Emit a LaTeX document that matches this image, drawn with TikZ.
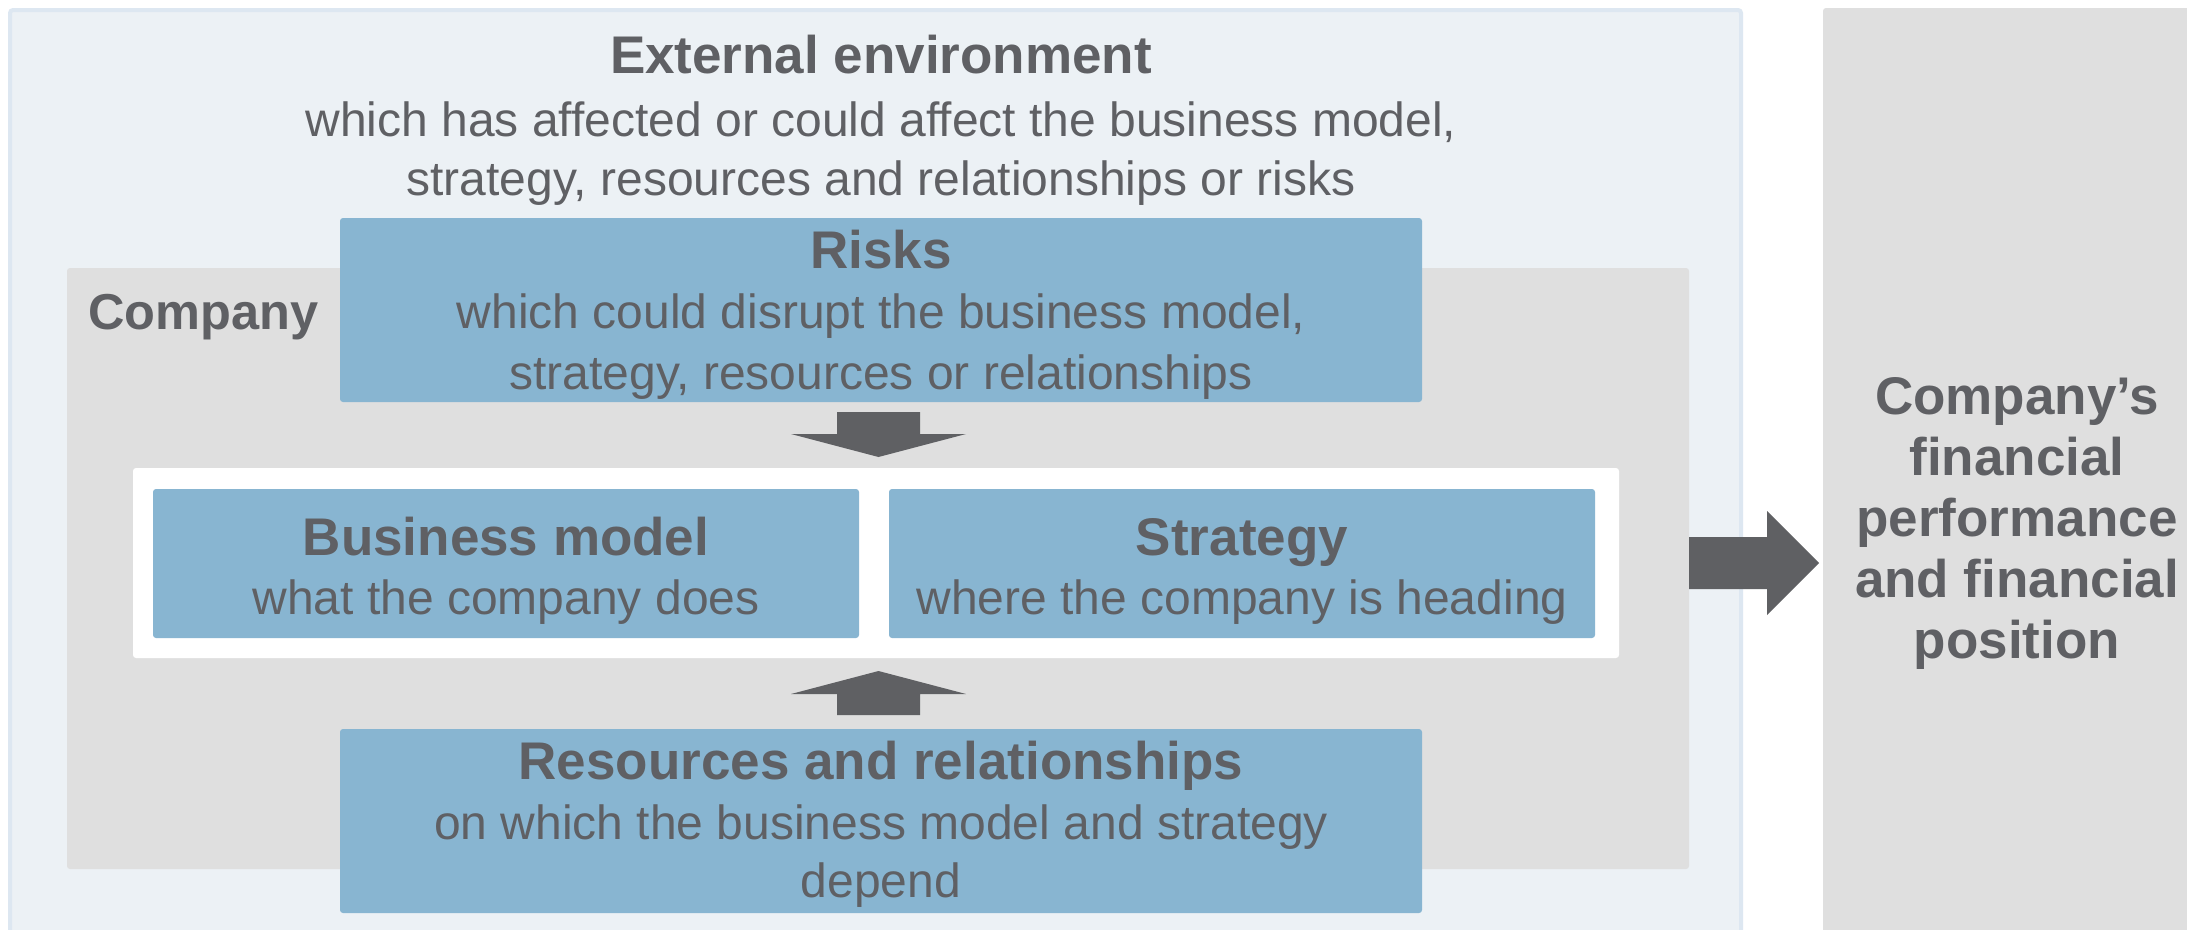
\documentclass[tikz,border=0pt]{standalone}
\usepackage{fontspec}
\setmainfont{Liberation Sans}
\usetikzlibrary{calc}
\definecolor{txt}{HTML}{5F6064}
\definecolor{arr}{HTML}{5F6063}
\definecolor{boxblue}{HTML}{88B5D1}
\definecolor{compgray}{HTML}{DFDFDF}
\definecolor{envfill}{HTML}{ECF1F5}
\definecolor{envline}{HTML}{DDE7F1}
\tikzset{
  box/.style={rectangle, rounded corners=3pt, inner sep=0pt, outer sep=0pt, draw=none},
  reg/.style={font=\fontsize{48}{58}\selectfont, text=txt, anchor=base, inner sep=0pt},
  ttl/.style={font=\fontsize{53}{60}\selectfont\bfseries, text=txt, anchor=base, inner sep=0pt},
  blockarrow/.style={fill=arr, draw=none},
}
\begin{document}
\begin{tikzpicture}[x=1pt,y=-1pt]
\clip (0,0) rectangle (2187,929);
\fill[white] (0,0) rectangle (2187,929);
% containers
\node[box, fill=envfill, draw=envline, line width=4pt, minimum width=1731pt, minimum height=940pt] (env) at (875.5,480) {};
\node[box, fill=compgray, minimum width=380pt, minimum height=940pt] (fin) at (2013,478) {};
\node[box, fill=compgray, minimum width=1622pt, minimum height=601pt] (comp) at (878,568.5) {};
\node[box, fill=boxblue, minimum width=1082pt, minimum height=184pt] (risks) at (881,310) {};
\node[box, fill=white, minimum width=1486pt, minimum height=190pt] (core) at (876,563) {};
\node[box, fill=boxblue, minimum width=706pt, minimum height=149pt] (bm) at (506,563.5) {};
\node[box, fill=boxblue, minimum width=706pt, minimum height=149pt] (strat) at (1242,563.5) {};
\node[box, fill=boxblue, minimum width=1082pt, minimum height=184pt] (res) at (881,821) {};
% block arrows
\coordinate (dA) at ($(risks.south)!0.5!(core.north)$);
\fill[blockarrow] ($(dA)+(-41.5,-23)$) -- ($(dA)+(41.5,-23)$) -- ($(dA)+(41.5,-1)$) -- ($(dA)+(87.5,-1)$) -- ($(dA)+(0,22)$) -- ($(dA)+(-87.5,-1)$) -- ($(dA)+(-41.5,-1)$) -- cycle;
\coordinate (uA) at ($(core.south)!0.5!(res.north)$);
\fill[blockarrow] ($(uA)+(-41.5,21.5)$) -- ($(uA)+(41.5,21.5)$) -- ($(uA)+(41.5,0.5)$) -- ($(uA)+(87.5,0.5)$) -- ($(uA)+(0,-22.5)$) -- ($(uA)+(-87.5,0.5)$) -- ($(uA)+(-41.5,0.5)$) -- cycle;
\coordinate (rA) at (comp.east |- core.center);
\fill[blockarrow] ($(rA)+(0,-26)$) -- ($(rA)+(78,-26)$) -- ($(rA)+(78,-52)$) -- ($(rA)+(130,0)$) -- ($(rA)+(78,52)$) -- ($(rA)+(78,26)$) -- ($(rA)+(0,26)$) -- cycle;
% texts
\node[ttl] (envT) at (881,73) {External environment};
\node[reg] (envA) at (881,136) {which has affected or could affect the business model,};
\node[reg] (envB) at (881,195) {strategy, resources and relationships or risks};
\node[ttl] (risksT) at (881,268) {Risks};
\node[reg] (risksA) at (881,328) {which could disrupt the business model,};
\node[reg] (risksB) at (881,389) {strategy, resources or relationships};
\node[ttl, anchor=base west, font=\fontsize{50.5}{60}\selectfont\bfseries] (compT) at (88,329) {Company};
\node[ttl] (bmT) at (506,555) {Business model};
\node[reg] (bmA) at (506,614) {what the company does};
\node[ttl] (stratT) at (1242,555) {Strategy};
\node[reg] (stratA) at (1242,614) {where the company is heading};
\node[ttl] (resT) at (881,779) {Resources and relationships};
\node[reg] (resA) at (881,839) {on which the business model and strategy};
\node[reg] (resB) at (881,897) {depend};
\node[ttl] (finA) at (2017,414) {Company’s};
\node[ttl] (finB) at (2017,475) {financial};
\node[ttl] (finC) at (2017,536) {performance};
\node[ttl] (finD) at (2017,597) {and financial};
\node[ttl] (finE) at (2017,658) {position};
\end{tikzpicture}
\end{document}
